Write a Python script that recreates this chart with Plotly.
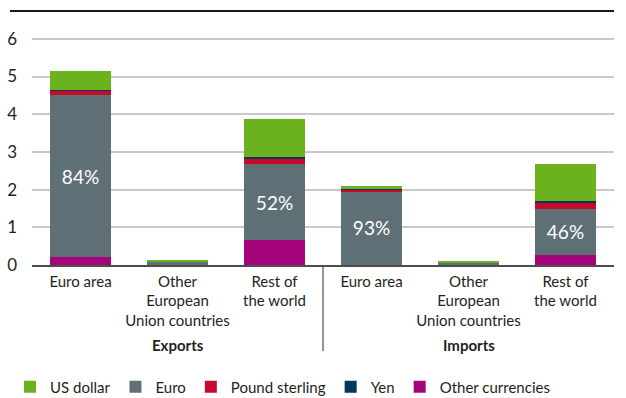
import plotly.graph_objects as go

# Exports / imports by region, split by invoicing currency
categories = ["Euro area", "Other<br>European<br>Union countries", "Rest of<br>the world",
              "Euro area", "Other<br>European<br>Union countries", "Rest of<br>the world"]
groups = ["Exports", "Imports"]

other_ccy = [0.20, 0.01, 0.66, 0.01, 0.01, 0.27]
euro      = [4.31, 0.08, 2.02, 1.95, 0.06, 1.22]
sterling  = [0.12, 0.01, 0.15, 0.05, 0.00, 0.16]
yen       = [0.02, 0.00, 0.03, 0.01, 0.00, 0.06]
usd       = [0.50, 0.04, 1.02, 0.08, 0.04, 0.97]
show_share = [True, False, True, True, False, True]

y_ticks = [0, 1, 2, 3, 4, 5, 6]

FONT = "Lato, 'Open Sans', sans-serif"
x = list(range(len(categories)))
totals = [a + b + c + d + e for a, b, c, d, e in zip(other_ccy, euro, sterling, yen, usd)]
share_text = [f"{round(100 * e / t)}%" if s else "" for e, t, s in zip(euro, totals, show_share)]

fig = go.Figure()
series = [
    ("Other currencies", other_ccy, "#A6047C", None, 5),
    ("Euro", euro, "#5E6F76", share_text, 2),
    ("Pound sterling", sterling, "#C8082D", None, 3),
    ("Yen", yen, "#00385C", None, 4),
    ("US dollar", usd, "#6BB21E", None, 1),
]
for name, vals, color, txt, rank in series:
    fig.add_trace(go.Bar(
        x=x, y=vals, name=name, width=0.63, legendrank=rank,
        marker=dict(color=color, line=dict(width=0)),
        text=txt, textposition="inside" if txt else None,
        insidetextanchor="middle",
        textfont=dict(color="white", size=19, family=FONT),
        hoverinfo="skip",
    ))

W, H = 626, 398
L, R, T, B = 32, 12, 20, 133
plot_h = H - T - B

fig.update_layout(
    width=W, height=H,
    barmode="stack",
    margin=dict(l=L, r=R, t=T, b=B, autoexpand=False),
    paper_bgcolor="white", plot_bgcolor="white",
    font=dict(family=FONT, size=15, color="#231F20"),
    showlegend=True,
    legend=dict(
        orientation="h", traceorder="normal",
        xref="container", yref="container",
        x=0.016, xanchor="left", y=1 - 387 / H, yanchor="middle",
        itemwidth=30,
        font=dict(size=15, family=FONT, color="#231F20"),
        itemclick=False, itemdoubleclick=False,
    ),
)

fig.update_xaxes(
    range=[-0.5, 5.5], tickmode="array", tickvals=x, ticktext=categories,
    showgrid=False, showline=True, linecolor="#4d4d4d", linewidth=1.5,
    ticks="", ticklabelstandoff=2, tickfont=dict(size=15, color="#231F20"),
    zeroline=False, automargin=False,
)
fig.update_yaxes(
    range=[0, 6.5], tickvals=y_ticks, showgrid=True, gridcolor="#c9c9c9", gridwidth=1.5,
    zeroline=False, showline=False, ticks="", ticklabelstandoff=14,
    tickfont=dict(size=17, color="#231F20"), automargin=False,
)

# thick rule across the top
fig.add_shape(type="line", xref="paper", yref="paper",
              x0=(10 - L) / (W - L - R), x1=1, y0=(265 - 11) / plot_h, y1=(265 - 11) / plot_h,
              line=dict(color="#1a1a1a", width=2))
# divider between the two groups
fig.add_shape(type="line", xref="x", yref="paper", x0=2.5, x1=2.5,
              y0=0, y1=(265 - 351) / plot_h, line=dict(color="#4d4d4d", width=1.2))

for gi, g in enumerate(groups):
    fig.add_annotation(x=1 + 3 * gi, y=(265 - 345) / plot_h, xref="x", yref="paper",
                       text=f"<b>{g}</b>", showarrow=False, yanchor="middle",
                       font=dict(size=15, family=FONT, color="#231F20"))

fig.write_html("out.html")
